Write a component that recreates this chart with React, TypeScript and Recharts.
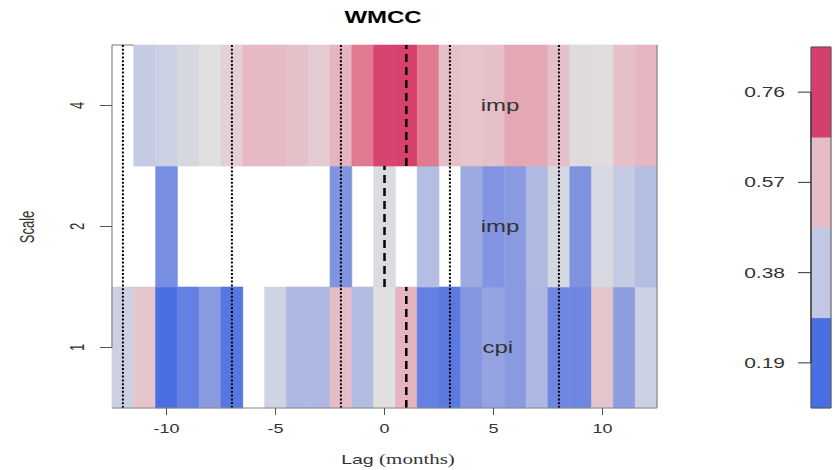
import {
  ComposedChart, ReferenceArea, ReferenceLine, Scatter, XAxis, YAxis,
} from 'recharts'

/* WMCC heatmap — wavelet multiple cross-correlation by lag (months) and scale.
 * Rows are placed at y = 1, 2, 3 and labelled with the wavelet scale. */

const LAGS = [-12, -11, -10, -9, -8, -7, -6, -5, -4, -3, -2, -1, 0, 1, 2, 3, 4, 5, 6, 7, 8, 9, 10, 11, 12]
const SCALE_LABELS = ['1', '2', '4']
const X_TICKS = [-10, -5, 0, 5, 10]

// null = no value (left blank)
const SCALE1 = [0.41, 0.55, 0.12, 0.175, 0.26, 0.146, null, 0.425, 0.338, 0.338, 0.57, 0.348, 0.475,
  0.586, 0.175, 0.156, 0.247, 0.284, 0.258, 0.338, 0.2, 0.2, 0.55, 0.266, 0.41]
const SCALE2 = [null, null, 0.22, null, null, null, null, null, null, null, 0.24, null, 0.46,
  null, 0.35, null, 0.3, 0.245, 0.258, 0.34, 0.44, 0.234, 0.445, 0.39, 0.35]
const SCALE4 = [null, 0.39, 0.41, 0.44, 0.475, 0.52, 0.575, 0.575, 0.56, 0.53, 0.585, 0.7, 0.81,
  0.82, 0.7, 0.56, 0.55, 0.56, 0.61, 0.61, 0.56, 0.49, 0.485, 0.56, 0.58]
const ROWS = [SCALE1, SCALE2, SCALE4]

// dominant variable per scale, and lags of the max correlation (dashed) / reference lags (dotted)
const ROW_LABELS = [{ x: 5.2, y: 1, label: 'cpi' }, { x: 5.3, y: 2, label: 'imp' }, { x: 5.3, y: 3, label: 'imp' }]
const PEAK_LAGS = [1, 0, 1]
const DOTTED_LAGS = [-12, -7, -2, 3, 8]

// colour ramp
const RAMP_VALUES = [0.12, 0.25, 0.38, 0.475, 0.57, 0.7, 0.82]
const RAMP_COLORS = ['#4a6fe3', '#8597e0', '#c2c8e3', '#e0e0e0', '#e6bcc6', '#e07a90', '#d6406b']

// colour key
const KEY_EDGES = [0.095, 0.285, 0.475, 0.665, 0.855]
const KEY_COLORS = ['#4a6fe3', '#c2c8e3', '#e6bcc6', '#d3406b']
const KEY_TICKS = [0.19, 0.38, 0.57, 0.76]

const SANS = '"Liberation Sans", Arial, sans-serif'
const SERIF = '"Liberation Serif", "Times New Roman", serif'
const STRETCH = 1.5

function hexToRgb(h: string) {
  return [1, 3, 5].map((i) => parseInt(h.slice(i, i + 2), 16))
}

function rampColor(v: number): string {
  if (v <= RAMP_VALUES[0]) return RAMP_COLORS[0]
  for (let i = 1; i < RAMP_VALUES.length; i++) {
    if (v <= RAMP_VALUES[i]) {
      const t = (v - RAMP_VALUES[i - 1]) / (RAMP_VALUES[i] - RAMP_VALUES[i - 1])
      const a = hexToRgb(RAMP_COLORS[i - 1])
      const b = hexToRgb(RAMP_COLORS[i])
      const c = a.map((av, k) => Math.round(av + (b[k] - av) * t))
      return `rgb(${c[0]},${c[1]},${c[2]})`
    }
  }
  return RAMP_COLORS[RAMP_COLORS.length - 1]
}

const XTick = ({ x, y, payload }: any) => (
  <text transform={`translate(${x},${y + 14}) scale(${STRETCH},1)`} textAnchor="middle" dy="0.35em"
    fontSize={12} fontFamily={SANS} fill="#333">{payload.value}</text>
)

const YTick = ({ x, y, payload }: any) => (
  <text transform={`translate(${x - 23},${y}) scale(${STRETCH},1) rotate(-90)`} textAnchor="middle" dy="0.35em"
    fontSize={13} fontFamily={SANS} fill="#333">{SCALE_LABELS[payload.value - 1]}</text>
)

const KeyTick = ({ x, y, payload }: any) => (
  <text transform={`translate(${x - 13},${y}) scale(${STRETCH},1)`} textAnchor="end" dy="0.35em"
    fontSize={14} fontFamily={SANS} fill="#333">{payload.value.toFixed(2)}</text>
)

const RowLabel = ({ cx, cy, payload }: any) => (
  <text transform={`translate(${cx},${cy}) scale(${STRETCH},1)`} textAnchor="middle" dy="0.35em"
    fontSize={16} fontFamily={SANS} fill="#333">{payload.label}</text>
)

export default function App() {
  const cells = ROWS.flatMap((row, r) =>
    row.map((v, i) => ({ lag: LAGS[i], y: r + 1, v })).filter((c) => c.v != null))

  return (
    <div style={{ position: 'absolute', left: 0, top: 0, width: 835, height: 470, background: '#fff' }}>
      <ComposedChart width={835} height={470} data={ROW_LABELS} margin={{ top: 45, right: 178, bottom: 0, left: 0 }}>
        <XAxis type="number" dataKey="x" domain={[-12.5, 12.5]} ticks={X_TICKS} allowDataOverflow
          height={62} tickSize={7} tickMargin={0} tick={(p: any) => <XTick {...p} />}
          tickLine={{ stroke: '#555' }} axisLine={{ stroke: '#888' }} />
        <YAxis type="number" dataKey="y" domain={[0.5, 3.5]} ticks={[1, 2, 3]} allowDataOverflow
          width={112} tickSize={12} tickMargin={0} tick={(p: any) => <YTick {...p} />}
          tickLine={{ stroke: '#555' }} axisLine={false} />
        {cells.map((c) => (
          <ReferenceArea key={`${c.y}_${c.lag}`} x1={c.lag - 0.5} x2={c.lag + 0.5} y1={c.y - 0.5} y2={c.y + 0.5}
            fill={rampColor(c.v as number)} fillOpacity={1} stroke={rampColor(c.v as number)} strokeWidth={0.6}
            ifOverflow="visible" />
        ))}
        <ReferenceLine segment={[{ x: -12.5, y: 1 }, { x: -12.5, y: 3.5 }]} stroke="#888" strokeWidth={1.2} />
        <ReferenceLine segment={[{ x: -12.5, y: 3.5 }, { x: -11.5, y: 3.5 }]} stroke="#888" strokeWidth={1.2} />
        <ReferenceLine x={12.5} stroke="#888" strokeWidth={1.2} />
        {DOTTED_LAGS.map((l) => (
          <ReferenceLine key={`d${l}`} x={l} stroke="#000" strokeWidth={2} strokeDasharray="2 1.8" />
        ))}
        {PEAK_LAGS.map((l, r) => (
          <ReferenceLine key={`p${r}`} segment={[{ x: l, y: r + 0.5 }, { x: l, y: r + 1.5 }]}
            stroke="#000" strokeWidth={2.5} strokeDasharray="8 5" />
        ))}
        <Scatter data={ROW_LABELS} dataKey="y" shape={(p: any) => <RowLabel {...p} />} isAnimationActive={false} />
      </ComposedChart>

      <div style={{ position: 'absolute', left: 740, top: 0 }}>
        <ComposedChart width={95} height={470} data={[{ x: 0.5, y: 0.5 }]} margin={{ top: 47, right: 4, bottom: 62, left: 0 }}>
          <XAxis type="number" dataKey="x" domain={[0, 1]} hide />
          <YAxis type="number" dataKey="y" domain={[KEY_EDGES[0], KEY_EDGES[KEY_EDGES.length - 1]]} ticks={KEY_TICKS}
            allowDataOverflow width={71} tickSize={13} tickMargin={0} tick={(p: any) => <KeyTick {...p} />}
            tickLine={{ stroke: '#333' }} axisLine={false} />
          {KEY_COLORS.map((col, i) => (
            <ReferenceArea key={col} x1={0} x2={1} y1={KEY_EDGES[i]} y2={KEY_EDGES[i + 1]}
              fill={col} fillOpacity={1} stroke={col} strokeWidth={0.5} ifOverflow="visible" />
          ))}
          <ReferenceArea x1={0} x2={1} y1={KEY_EDGES[0]} y2={KEY_EDGES[KEY_EDGES.length - 1]}
            fill="none" stroke="#555" strokeWidth={1} ifOverflow="visible" />
          <ReferenceLine segment={[{ x: 0, y: KEY_TICKS[0] }, { x: 0, y: KEY_TICKS[KEY_TICKS.length - 1] }]}
            stroke="#333" strokeWidth={1.2} />
        </ComposedChart>
      </div>

      <svg width={835} height={470} style={{ position: 'absolute', left: 0, top: 0, pointerEvents: 'none' }}>
        <text transform={`translate(383,17) scale(${STRETCH},1)`} textAnchor="middle" dy="0.35em"
          fontSize={16} fontWeight="bold" fontFamily={SANS} fill="#000">WMCC</text>
        <text transform={`translate(27,227) scale(${STRETCH},1) rotate(-90)`} textAnchor="middle" dy="0.35em"
          fontSize={13} fontFamily={SANS} fill="#333">Scale</text>
        <text transform={`translate(398,458) scale(${STRETCH},1)`} textAnchor="middle" dy="0.35em" fill="#333">
          <tspan fontSize={13} fontFamily={SANS}>Lag </tspan>
          <tspan fontSize={14} fontFamily={SERIF}>(months)</tspan>
        </text>
      </svg>
    </div>
  )
}
